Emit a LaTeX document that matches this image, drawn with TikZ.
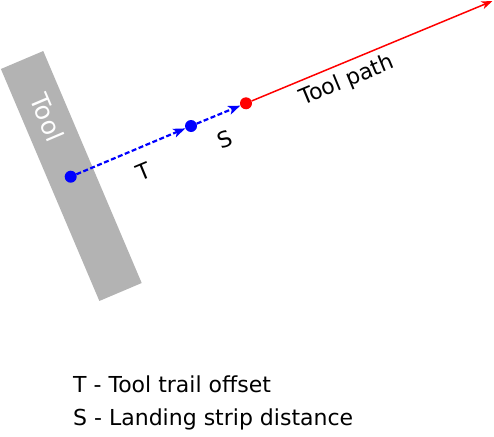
\documentclass[tikz,border=0pt]{standalone}
\usepackage{fontspec}
\setmainfont{DejaVu Sans}
\usetikzlibrary{arrows.meta}
\definecolor{toolgray}{RGB}{179,179,179}
\tikzset{
  lbl/.style={font=\fontsize{22}{26}\selectfont, inner sep=0pt},
  bluedot/.style={circle, fill=blue, inner sep=0pt, minimum size=12pt},
  reddot/.style={circle, fill=red, inner sep=0pt, minimum size=12pt},
  trail/.style={draw=blue, line width=2.2pt, dash pattern=on 5pt off 2.5pt, -{Stealth[length=12pt,width=9pt,inset=3pt]}},
  pathline/.style={draw=red, line width=1.5pt, -{Stealth[length=11pt,width=8pt,inset=3pt]}}
}
\begin{document}
\begin{tikzpicture}[x=1pt,y=1pt]
\useasboundingbox (0,0) rectangle (494,-436);
\node[fill=toolgray, minimum width=252pt, minimum height=46pt, inner sep=0pt, rotate=-67] (tool) at (71.3,-176) {};
\node[font=\fontsize{25}{30}\selectfont, inner sep=0pt, text=white, rotate=-67] (tooltext) at (47.5,-117.5) {Tool};
\node[bluedot] (d1) at (70.7,-176.7) {};
\node[bluedot] (d2) at (191,-126) {};
\node[reddot] (r) at (246,-103.3) {};
\coordinate (e) at (492.5,-1);
\draw[trail] (d1) -- (d2);
\draw[trail] (d2) -- (r);
\draw[pathline] (r) -- (e);
\node[lbl, rotate=22.5] (tl) at (144,-172) {T};
\node[lbl, rotate=22.5] (sl) at (225,-139) {S};
\node[lbl, rotate=22.5] (pl) at (347,-81) {Tool path};
\node[lbl, anchor=base west] (leg1) at (73,-392) {T - Tool trail offset};
\node[lbl, anchor=base west] (leg2) at (73,-425) {S - Landing strip distance};
\end{tikzpicture}
\end{document}
